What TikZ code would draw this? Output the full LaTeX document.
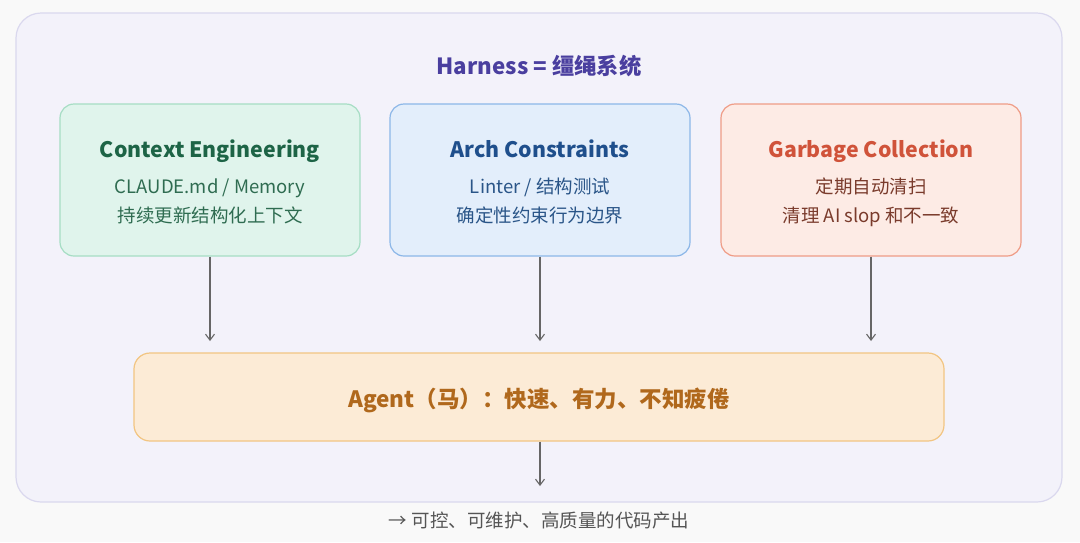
\documentclass[tikz,border=0pt]{standalone}
\usepackage{fontspec}
\setmainfont{Noto Sans CJK SC}
\usetikzlibrary{arrows.meta}
\definecolor{pagebg}{HTML}{F9F9F9}
\definecolor{framefill}{HTML}{F3F2FA}
\definecolor{framedraw}{HTML}{DAD8EE}
\definecolor{titlecol}{HTML}{4A3F9F}
\definecolor{gfill}{HTML}{E0F4EC}
\definecolor{gdraw}{HTML}{A6DDC4}
\definecolor{gtitle}{HTML}{1D6446}
\definecolor{gtext}{HTML}{2F6C51}
\definecolor{bfill}{HTML}{E3EEFB}
\definecolor{bdraw}{HTML}{8CB7E8}
\definecolor{btitle}{HTML}{1F4F8C}
\definecolor{btext}{HTML}{2A5588}
\definecolor{ofill}{HTML}{FDEBE5}
\definecolor{odraw}{HTML}{EF9C86}
\definecolor{otitle}{HTML}{D0533A}
\definecolor{otext}{HTML}{7A3B2C}
\definecolor{afill}{HTML}{FCEBD6}
\definecolor{adraw}{HTML}{F2C582}
\definecolor{atext}{HTML}{B0681C}
\definecolor{arrowcol}{HTML}{666666}
\definecolor{foot}{HTML}{555555}
\begin{document}
\begin{tikzpicture}[x=1pt,y=-1pt,
  card/.style={rounded corners=14pt, line width=1.2pt, inner sep=0pt},
  cardtitle/.style={font=\fontsize{21.3}{24}\selectfont\bfseries, inner sep=0pt, anchor=base},
  cardline/.style={font=\fontsize{18.5}{21}\selectfont, inner sep=0pt, anchor=base},
  flow/.style={draw=arrowcol, line width=1.1pt, -{Straight Barb[length=6pt,width=9pt,line width=1.1pt]}}
]
\useasboundingbox (0,0) rectangle (1080,542);
\fill[pagebg] (0,0) rectangle (1080,542);
\draw[framedraw, fill=framefill, line width=1.2pt, rounded corners=25pt] (16,13) rectangle (1062,502);
\node[font=\fontsize{22.3}{25}\selectfont\bfseries, text=titlecol, inner sep=0pt] (title) at (539,66) {Harness = 缰绳系统};

\node[card, draw=gdraw, fill=gfill, minimum width=300pt, minimum height=152pt] (ce) at (210,180) {};
\node[card, draw=bdraw, fill=bfill, minimum width=300pt, minimum height=152pt] (ac) at (540,180) {};
\node[card, draw=odraw, fill=ofill, minimum width=300pt, minimum height=152pt] (gc) at (871,180) {};

\node[cardtitle, text=gtitle] (ce1) at (210,157) {Context Engineering};
\node[cardline, text=gtext] (ce2) at (210,193) {CLAUDE.md / Memory};
\node[cardline, text=gtext] (ce3) at (210,222) {持续更新结构化上下文};

\node[cardtitle, text=btitle] (ac1) at (540,157) {Arch Constraints};
\node[cardline, text=btext] (ac2) at (540,193) {Linter / 结构测试};
\node[cardline, text=btext] (ac3) at (540,222) {确定性约束行为边界};

\node[cardtitle, text=otitle] (gc1) at (871,157) {Garbage Collection};
\node[cardline, text=otext] (gc2) at (871,193) {定期自动清扫};
\node[cardline, text=otext] (gc3) at (871,222) {清理 AI slop 和不一致};

\node[card, rounded corners=16pt, draw=adraw, fill=afill, minimum width=810pt, minimum height=88pt] (ag) at (539,397) {};
\node[font=\fontsize{22.5}{25}\selectfont\bfseries, text=atext, inner sep=0pt] (agt) at (539,400) {Agent（马）：快速、有力、不知疲倦};

\coordinate (ain1) at (210,341);
\coordinate (ain2) at (540,341);
\coordinate (ain3) at (871,341);
\coordinate (out) at (540,486);
\draw[flow] (ce.south) -- (ain1);
\draw[flow] (ac.south) -- (ain2);
\draw[flow] (gc.south) -- (ain3);
\draw[flow] (ag.south -| out) -- (out);

\node[font=\fontsize{18.5}{21}\selectfont, text=foot, inner sep=0pt] (footer) at (539,520) {→ 可控、可维护、高质量的代码产出};
\end{tikzpicture}
\end{document}
